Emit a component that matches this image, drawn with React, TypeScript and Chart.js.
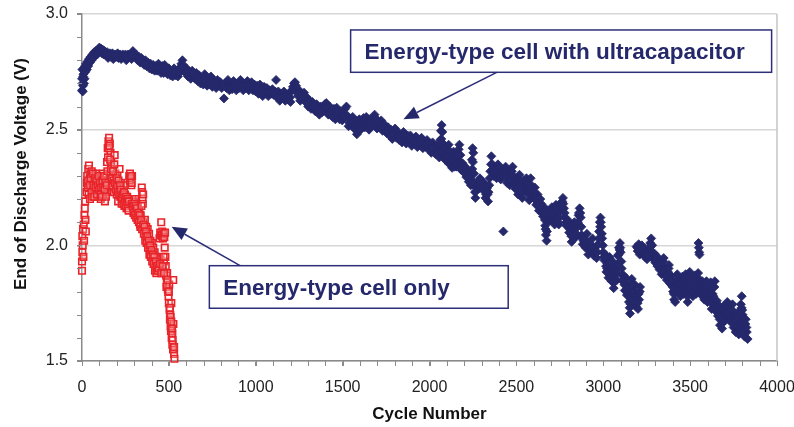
import React, { useEffect, useRef } from "react";
import { Chart, registerables } from "chart.js";

Chart.register(...registerables);

// Energy-type cell paired with an ultracapacitor: [cycle, end-of-discharge voltage]
const hybridEarly: [number, number][] = [
  [0, 2.67], [0, 2.72], [2, 2.76], [4, 2.665], [6, 2.69], [8, 2.74], [10, 2.765], [12, 2.70], [15, 2.72], [18, 2.775],
  [20, 2.75], [24, 2.785], [28, 2.76], [32, 2.795], [36, 2.775], [40, 2.805], [45, 2.79], [50, 2.815], [55, 2.80], [60, 2.825],
  [65, 2.81], [70, 2.835], [75, 2.82], [80, 2.84], [85, 2.83], [90, 2.845], [95, 2.835], [100, 2.855], [105, 2.84], [110, 2.85],
  [115, 2.83], [120, 2.845], [125, 2.825], [130, 2.84], [140, 2.82], [145, 2.835], [150, 2.81], [160, 2.83], [165, 2.815], [175, 2.83],
  [180, 2.805], [190, 2.825], [195, 2.815], [205, 2.83], [210, 2.81], [220, 2.825], [225, 2.805], [235, 2.825], [240, 2.815], [250, 2.825],
  [255, 2.80], [265, 2.825], [270, 2.815], [280, 2.825], [285, 2.805], [293, 2.84], [298, 2.83], [305, 2.815], [312, 2.825], [320, 2.80],
  [328, 2.815], [335, 2.79], [342, 2.81], [350, 2.795], [358, 2.78], [365, 2.80], [372, 2.775], [380, 2.79], [388, 2.765], [395, 2.785],
  [402, 2.76], [410, 2.78], [418, 2.755], [425, 2.775], [432, 2.755], [440, 2.785], [448, 2.76], [455, 2.745], [462, 2.775], [470, 2.745],
  [476, 2.78], [484, 2.755], [492, 2.74], [500, 2.765], [508, 2.735], [515, 2.755], [522, 2.73], [530, 2.765], [538, 2.735], [545, 2.755],
  [552, 2.73], [560, 2.765], [565, 2.75], [572, 2.785], [578, 2.80], [582, 2.78], [588, 2.76], [595, 2.745], [602, 2.765], [610, 2.73],
  [618, 2.75], [626, 2.72], [634, 2.755], [642, 2.735], [650, 2.72], [658, 2.745], [666, 2.71], [674, 2.735], [682, 2.70], [690, 2.725],
  [698, 2.695], [706, 2.74], [712, 2.71], [720, 2.69], [728, 2.72], [735, 2.695], [742, 2.73], [750, 2.685], [758, 2.715], [765, 2.70],
  [772, 2.68], [780, 2.715], [788, 2.69], [796, 2.705], [804, 2.68], [817, 2.635], [824, 2.70], [832, 2.68], [840, 2.715], [848, 2.67],
  [856, 2.695], [864, 2.675], [872, 2.71], [880, 2.685], [888, 2.67], [896, 2.70], [904, 2.68], [912, 2.715], [920, 2.69], [928, 2.67],
  [936, 2.70], [944, 2.68], [952, 2.71], [960, 2.67], [968, 2.69], [976, 2.705], [984, 2.67], [992, 2.695],
  [3, 2.70], [7, 2.73], [14, 2.75], [22, 2.77], [30, 2.78], [42, 2.79], [62, 2.81], [88, 2.825], [112, 2.835], [135, 2.83],
  [170, 2.82], [200, 2.815], [230, 2.815], [260, 2.81], [290, 2.82], [332, 2.80], [362, 2.785], [398, 2.77], [436, 2.765], [466, 2.76],
  [504, 2.75], [534, 2.745], [556, 2.745], [575, 2.77], [606, 2.745], [638, 2.745], [670, 2.72], [702, 2.715], [738, 2.705], [770, 2.695],
  [810, 2.695], [852, 2.685], [884, 2.695], [924, 2.685], [958, 2.69], [988, 2.68],
];

const hybridMiddle: [number, number][] = [
  [1000, 2.665], [1008, 2.69], [1016, 2.655], [1024, 2.695], [1032, 2.675], [1040, 2.645], [1048, 2.685], [1056, 2.66], [1064, 2.68], [1072, 2.645],
  [1080, 2.67], [1088, 2.655], [1096, 2.675], [1104, 2.65], [1112, 2.665], [1117, 2.715], [1122, 2.64], [1130, 2.665], [1138, 2.625], [1146, 2.655],
  [1154, 2.635], [1162, 2.665], [1170, 2.625], [1178, 2.645], [1186, 2.63], [1194, 2.66], [1200, 2.62], [1208, 2.67], [1214, 2.685], [1220, 2.70],
  [1226, 2.705], [1232, 2.69], [1238, 2.665], [1244, 2.645], [1250, 2.67], [1256, 2.625], [1262, 2.65], [1270, 2.635], [1278, 2.66], [1286, 2.62],
  [1294, 2.64], [1302, 2.60], [1310, 2.625], [1318, 2.59], [1326, 2.62], [1334, 2.595], [1342, 2.58], [1350, 2.61], [1358, 2.585], [1366, 2.565],
  [1374, 2.60], [1382, 2.575], [1390, 2.595], [1398, 2.61], [1406, 2.615], [1412, 2.59], [1418, 2.565], [1426, 2.60], [1434, 2.575], [1442, 2.555],
  [1450, 2.59], [1458, 2.545], [1466, 2.595], [1474, 2.565], [1482, 2.545], [1490, 2.58], [1498, 2.54], [1506, 2.57], [1514, 2.59], [1522, 2.60],
  [1528, 2.56], [1534, 2.515], [1542, 2.545], [1550, 2.525], [1558, 2.555], [1566, 2.505], [1574, 2.54], [1582, 2.48], [1588, 2.52], [1596, 2.545],
  [1604, 2.50], [1612, 2.53], [1620, 2.55], [1628, 2.51], [1636, 2.555], [1644, 2.535], [1652, 2.50], [1660, 2.545], [1668, 2.52], [1676, 2.555],
  [1684, 2.565], [1690, 2.55], [1698, 2.505], [1706, 2.53], [1714, 2.515], [1722, 2.54], [1730, 2.495], [1738, 2.525], [1746, 2.505], [1754, 2.485],
  [1762, 2.51], [1770, 2.475], [1778, 2.50], [1786, 2.46], [1794, 2.49], [1802, 2.505], [1810, 2.465], [1818, 2.49], [1826, 2.455], [1834, 2.48],
  [1842, 2.445], [1850, 2.49], [1858, 2.465], [1866, 2.44], [1874, 2.475], [1882, 2.45], [1890, 2.475], [1898, 2.43], [1906, 2.46], [1914, 2.44],
  [1922, 2.47], [1930, 2.425], [1938, 2.455], [1946, 2.435], [1954, 2.465], [1962, 2.42], [1970, 2.445], [1978, 2.425], [1986, 2.455], [1994, 2.415],
  [2002, 2.44], [2010, 2.40], [2018, 2.445], [2026, 2.42], [2034, 2.395], [2042, 2.43],
  [1004, 2.675], [1036, 2.66], [1068, 2.66], [1100, 2.66], [1134, 2.645], [1166, 2.645], [1198, 2.64], [1242, 2.655], [1274, 2.645], [1306, 2.61],
  [1338, 2.605], [1370, 2.58], [1402, 2.595], [1438, 2.585], [1470, 2.58], [1502, 2.555], [1538, 2.53], [1570, 2.52], [1600, 2.52], [1632, 2.53],
  [1664, 2.53], [1694, 2.525], [1726, 2.515], [1758, 2.495], [1790, 2.475], [1822, 2.47], [1854, 2.475], [1886, 2.46], [1918, 2.45], [1950, 2.45],
  [1982, 2.44], [2014, 2.42], [2046, 2.41],
];

const hybridLate: [number, number][] = [
  [2050, 2.40], [2056, 2.38], [2062, 2.455], [2066, 2.495], [2070, 2.52], [2074, 2.49], [2078, 2.44], [2082, 2.41], [2086, 2.38], [2092, 2.42],
  [2098, 2.365], [2104, 2.40], [2110, 2.435], [2116, 2.35], [2122, 2.38], [2130, 2.335], [2138, 2.405], [2146, 2.36], [2154, 2.34], [2162, 2.37],
  [2168, 2.415], [2172, 2.435], [2178, 2.39], [2184, 2.325], [2190, 2.355], [2198, 2.315], [2206, 2.34], [2212, 2.295], [2218, 2.325], [2226, 2.275],
  [2234, 2.30], [2240, 2.285], [2244, 2.37], [2248, 2.42], [2252, 2.40], [2256, 2.31], [2260, 2.255], [2264, 2.205], [2268, 2.235], [2274, 2.27],
  [2282, 2.245], [2290, 2.29], [2298, 2.26], [2306, 2.24], [2314, 2.27], [2322, 2.205], [2330, 2.245], [2337, 2.19], [2344, 2.26], [2350, 2.32],
  [2356, 2.385], [2362, 2.35], [2370, 2.30], [2378, 2.34], [2386, 2.29], [2394, 2.35], [2402, 2.31], [2410, 2.285], [2418, 2.33], [2425, 2.06],
  [2430, 2.30], [2438, 2.34], [2446, 2.27], [2454, 2.32], [2462, 2.26], [2470, 2.30], [2478, 2.34], [2486, 2.275], [2494, 2.245], [2502, 2.29],
  [2510, 2.22], [2518, 2.305], [2526, 2.26], [2534, 2.205], [2542, 2.28], [2550, 2.235], [2558, 2.29], [2566, 2.25], [2574, 2.195], [2582, 2.29],
  [2590, 2.24], [2598, 2.205], [2606, 2.25], [2614, 2.175], [2622, 2.22], [2630, 2.15], [2638, 2.20], [2646, 2.16], [2654, 2.125], [2660, 2.165],
  [2666, 2.085], [2670, 2.045], [2674, 2.02], [2680, 2.10], [2688, 2.15], [2696, 2.11], [2704, 2.165], [2712, 2.13], [2720, 2.09], [2728, 2.175],
  [2736, 2.12], [2744, 2.09], [2752, 2.15], [2760, 2.185], [2768, 2.205], [2774, 2.16], [2780, 2.12], [2788, 2.085], [2796, 2.11], [2804, 2.055],
  [2812, 2.09], [2818, 2.015], [2826, 2.06], [2834, 2.10], [2842, 2.035], [2850, 2.08], [2858, 2.13], [2864, 2.16], [2870, 2.12], [2876, 2.045],
  [2882, 2.005], [2890, 2.03], [2898, 1.99], [2906, 2.05], [2914, 1.96], [2922, 2.00], [2930, 1.975], [2938, 2.03], [2946, 1.955], [2954, 1.99],
  [2962, 1.945], [2970, 2.005], [2976, 2.06], [2980, 2.10], [2984, 2.12], [2988, 2.08], [2994, 2.03], [3000, 1.97], [3006, 1.935], [3012, 1.96],
  [3018, 1.885], [3024, 1.92], [3030, 1.86], [3036, 1.95], [3042, 1.90], [3048, 1.845], [3054, 1.93], [3060, 1.815], [3066, 1.87], [3072, 1.91],
  [3078, 1.85], [3084, 1.955], [3090, 1.99], [3096, 2.01], [3100, 1.97], [3106, 1.90], [3112, 1.845], [3118, 1.87], [3124, 1.805], [3130, 1.86],
  [3136, 1.785], [3142, 1.83], [3148, 1.755], [3154, 1.705], [3158, 1.745], [3164, 1.855], [3170, 1.81], [3176, 1.775], [3182, 1.83], [3188, 1.735],
  [3194, 1.79], [3200, 1.725], [3206, 1.765], [3212, 1.82],
];

// denser core of the scattered stretch from cycle 2050 onwards
const hybridLateCore: [number, number][] = [
  [2052, 2.43], [2060, 2.41], [2068, 2.46], [2076, 2.40], [2084, 2.42], [2090, 2.37], [2100, 2.39], [2108, 2.36], [2114, 2.41], [2124, 2.35],
  [2134, 2.37], [2142, 2.34], [2150, 2.38], [2158, 2.35], [2166, 2.39], [2176, 2.36], [2182, 2.35], [2194, 2.33], [2202, 2.33], [2210, 2.31],
  [2222, 2.30], [2230, 2.29], [2238, 2.26], [2246, 2.33], [2250, 2.36], [2254, 2.27], [2262, 2.23], [2270, 2.25], [2278, 2.26], [2286, 2.26],
  [2294, 2.28], [2302, 2.25], [2310, 2.25], [2318, 2.24], [2326, 2.22], [2334, 2.22], [2340, 2.23], [2346, 2.29], [2354, 2.35], [2360, 2.32],
  [2366, 2.33], [2374, 2.32], [2382, 2.31], [2390, 2.32], [2398, 2.33], [2406, 2.30], [2414, 2.31], [2422, 2.30], [2434, 2.32], [2442, 2.30],
  [2450, 2.29], [2458, 2.30], [2466, 2.28], [2474, 2.32], [2482, 2.30], [2490, 2.26], [2498, 2.27], [2506, 2.25], [2514, 2.27], [2522, 2.28],
  [2530, 2.23], [2538, 2.25], [2546, 2.26], [2554, 2.26], [2562, 2.27], [2570, 2.22], [2578, 2.24], [2586, 2.26], [2594, 2.22], [2602, 2.23],
  [2610, 2.20], [2618, 2.19], [2626, 2.18], [2634, 2.17], [2642, 2.18], [2650, 2.14], [2656, 2.14], [2664, 2.11], [2668, 2.07], [2676, 2.06],
  [2684, 2.12], [2692, 2.13], [2700, 2.14], [2708, 2.15], [2716, 2.11], [2724, 2.13], [2732, 2.15], [2740, 2.10], [2748, 2.12], [2756, 2.17],
  [2764, 2.19], [2770, 2.18], [2778, 2.14], [2786, 2.10], [2792, 2.10], [2800, 2.08], [2808, 2.07], [2816, 2.04], [2822, 2.04], [2830, 2.08],
  [2838, 2.07], [2846, 2.05], [2854, 2.10], [2860, 2.14], [2868, 2.14], [2874, 2.08], [2880, 2.03], [2886, 2.02], [2894, 2.01], [2902, 2.02],
  [2910, 2.00], [2918, 1.98], [2926, 1.99], [2934, 2.00], [2942, 1.99], [2950, 1.97], [2958, 1.97], [2966, 1.97], [2974, 2.03], [2982, 2.08],
  [2986, 2.10], [2992, 2.05], [2998, 2.00], [3004, 1.95], [3010, 1.95], [3016, 1.91], [3022, 1.90], [3028, 1.89], [3034, 1.91], [3040, 1.92],
  [3046, 1.87], [3052, 1.89], [3058, 1.84], [3064, 1.84], [3070, 1.89], [3076, 1.88], [3082, 1.92], [3088, 1.96], [3094, 1.98], [3098, 1.99],
  [3104, 1.93], [3110, 1.87], [3116, 1.85], [3122, 1.83], [3128, 1.84], [3134, 1.81], [3140, 1.80], [3146, 1.78], [3152, 1.73], [3160, 1.77],
  [3166, 1.83], [3172, 1.79], [3178, 1.80], [3186, 1.78], [3192, 1.76], [3198, 1.75], [3204, 1.79], [3210, 1.80],
];

const hybridFinal: [number, number][] = [
  [3192, 1.995], [3198, 1.975], [3204, 2.005], [3210, 1.96], [3216, 1.99], [3222, 2.00], [3228, 1.965], [3234, 1.985], [3240, 1.95], [3246, 1.975],
  [3252, 1.94], [3258, 1.965], [3264, 1.98], [3270, 2.01], [3276, 2.03], [3282, 2.00], [3288, 1.94], [3294, 1.965], [3300, 1.925], [3306, 1.955],
  [3312, 1.91], [3318, 1.94], [3324, 1.895], [3330, 1.925], [3336, 1.875], [3342, 1.91], [3348, 1.945], [3354, 1.87], [3360, 1.90], [3366, 1.85],
  [3372, 1.885], [3378, 1.915], [3384, 1.835], [3390, 1.87], [3396, 1.825], [3402, 1.80], [3408, 1.765], [3414, 1.755], [3420, 1.84], [3426, 1.875],
  [3432, 1.81], [3438, 1.855], [3444, 1.78], [3450, 1.83], [3456, 1.865], [3462, 1.79], [3468, 1.845], [3474, 1.875], [3480, 1.81], [3486, 1.755],
  [3492, 1.85], [3498, 1.885], [3504, 1.80], [3510, 1.86], [3516, 1.78], [3522, 1.84], [3528, 1.87], [3534, 1.79], [3540, 1.845], [3546, 1.88],
  [3548, 2.01], [3550, 1.99], [3552, 1.97], [3554, 1.96], [3558, 1.82], [3564, 1.785], [3570, 1.845], [3576, 1.80], [3582, 1.765], [3588, 1.83],
  [3594, 1.845], [3600, 1.755], [3606, 1.80], [3612, 1.775], [3618, 1.84], [3624, 1.725], [3630, 1.79], [3636, 1.755], [3642, 1.845], [3648, 1.715],
  [3654, 1.76], [3660, 1.695], [3666, 1.74], [3672, 1.655], [3678, 1.72], [3684, 1.64], [3690, 1.70], [3696, 1.74], [3702, 1.675], [3708, 1.72],
  [3714, 1.755], [3720, 1.685], [3726, 1.73], [3732, 1.67], [3738, 1.70], [3744, 1.745], [3750, 1.645], [3756, 1.69], [3762, 1.625], [3768, 1.67],
  [3774, 1.71], [3780, 1.615], [3786, 1.66], [3792, 1.745], [3797, 1.78], [3802, 1.70], [3808, 1.655], [3814, 1.605], [3820, 1.68], [3826, 1.625],
  [3831, 1.595],
];

// denser core of the last stretch
const hybridFinalCore: [number, number][] = [
  [3196, 1.99], [3202, 1.985], [3208, 1.975], [3214, 1.975], [3220, 1.98], [3226, 1.98], [3232, 1.97], [3238, 1.965], [3244, 1.96], [3250, 1.955],
  [3256, 1.95], [3262, 1.955], [3268, 1.99], [3274, 2.00], [3280, 1.97], [3286, 1.96], [3292, 1.95], [3298, 1.94], [3304, 1.94], [3310, 1.93],
  [3316, 1.92], [3322, 1.915], [3328, 1.91], [3334, 1.895], [3340, 1.89], [3346, 1.93], [3352, 1.89], [3358, 1.885], [3364, 1.87], [3370, 1.865],
  [3376, 1.90], [3382, 1.855], [3388, 1.85], [3394, 1.84], [3400, 1.82], [3406, 1.79], [3412, 1.80], [3418, 1.82], [3424, 1.855], [3430, 1.83],
  [3436, 1.83], [3442, 1.80], [3448, 1.81], [3454, 1.85], [3460, 1.81], [3466, 1.82], [3472, 1.855], [3478, 1.83], [3484, 1.78], [3490, 1.82],
  [3496, 1.865], [3502, 1.82], [3508, 1.84], [3514, 1.80], [3520, 1.82], [3526, 1.85], [3532, 1.81], [3538, 1.82], [3544, 1.86], [3556, 1.80],
  [3562, 1.81], [3568, 1.82], [3574, 1.78], [3580, 1.79], [3586, 1.81], [3592, 1.82], [3598, 1.78], [3604, 1.78], [3610, 1.79], [3616, 1.81],
  [3622, 1.75], [3628, 1.77], [3634, 1.78], [3640, 1.82], [3646, 1.74], [3652, 1.73], [3658, 1.72], [3664, 1.72], [3670, 1.68], [3676, 1.70],
  [3682, 1.66], [3688, 1.68], [3694, 1.72], [3700, 1.70], [3706, 1.70], [3712, 1.73], [3718, 1.71], [3724, 1.71], [3730, 1.69], [3736, 1.68],
  [3742, 1.72], [3748, 1.67], [3754, 1.67], [3760, 1.645], [3766, 1.65], [3772, 1.69], [3778, 1.64], [3784, 1.64], [3790, 1.70], [3796, 1.73],
  [3800, 1.72], [3806, 1.68], [3812, 1.63], [3818, 1.66], [3824, 1.645],
];

// Energy-type cell on its own: [cycle, end-of-discharge voltage]
const cellOnly: [number, number][] = [
  [0, 1.89], [0, 1.93], [2, 1.97], [4, 2.00], [2, 2.04], [6, 2.07], [8, 1.95], [10, 2.09], [12, 2.02], [14, 2.13],
  [16, 2.16], [18, 2.19], [20, 2.11], [22, 2.06], [26, 2.23], [28, 2.27], [30, 2.30], [32, 2.25], [36, 2.33], [40, 2.345],
  [44, 2.29], [48, 2.31], [52, 2.26], [56, 2.32], [60, 2.28], [64, 2.24], [68, 2.30], [72, 2.27], [76, 2.22], [80, 2.31],
  [84, 2.25], [88, 2.29], [92, 2.21], [96, 2.27], [100, 2.30], [104, 2.24], [108, 2.20], [112, 2.28], [116, 2.25], [120, 2.31],
  [124, 2.22], [128, 2.26], [132, 2.19], [136, 2.23], [140, 2.30], [144, 2.36], [148, 2.42], [152, 2.45], [156, 2.465], [160, 2.44],
  [164, 2.40], [168, 2.36], [172, 2.33], [176, 2.29], [180, 2.25], [184, 2.23], [188, 2.39], [192, 2.31], [196, 2.27], [200, 2.22],
  [204, 2.30], [208, 2.19], [212, 2.25], [216, 2.33], [220, 2.21], [224, 2.27], [228, 2.18], [232, 2.24], [236, 2.20], [240, 2.26],
  [244, 2.17], [248, 2.22], [252, 2.19], [256, 2.16], [260, 2.21], [266, 2.18], [272, 2.30], [276, 2.31], [280, 2.28], [284, 2.26],
  [288, 2.30], [290, 2.20], [294, 2.16], [298, 2.19], [302, 2.15], [306, 2.20], [310, 2.14], [314, 2.18], [318, 2.13], [322, 2.17],
  [326, 2.11], [330, 2.15], [334, 2.09], [338, 2.13], [344, 2.25], [346, 2.23], [348, 2.20], [350, 2.18], [354, 2.10], [358, 2.06],
  [362, 2.11], [366, 2.04], [370, 2.08], [374, 2.03], [378, 2.07], [382, 2.00], [386, 2.05], [390, 1.98], [394, 2.02], [398, 1.97],
  [402, 2.01], [406, 1.95], [410, 1.99], [414, 1.93], [418, 1.97], [422, 1.91], [426, 1.95], [430, 1.90], [434, 1.93], [440, 1.92],
  [446, 1.89], [452, 1.94], [460, 1.90], [466, 1.89], [472, 1.93], [446, 2.03], [450, 2.055], [454, 2.045], [456, 2.10], [458, 2.04],
  [462, 2.06], [466, 2.03], [470, 2.05], [474, 2.035], [478, 2.055], [476, 1.99], [480, 1.95], [482, 1.91], [484, 1.87], [488, 1.84],
  [490, 1.88], [494, 1.81], [498, 1.78], [500, 1.75], [502, 1.83], [504, 1.72], [506, 1.68], [508, 1.70], [510, 1.65], [512, 1.63],
  [514, 1.75], [516, 1.60], [520, 1.62], [522, 1.59], [525, 1.85], [526, 1.66], [528, 1.56], [530, 1.53], [532, 1.51],
];

// denser core of the cell-only trace
const cellOnlyCore: [number, number][] = [
  [34, 2.28], [38, 2.22], [42, 2.26], [46, 2.20], [50, 2.29], [54, 2.23], [58, 2.21], [62, 2.31], [66, 2.26], [70, 2.21],
  [74, 2.29], [78, 2.25], [82, 2.28], [86, 2.22], [90, 2.26], [94, 2.30], [98, 2.24], [102, 2.27], [106, 2.22], [110, 2.25],
  [114, 2.21], [118, 2.28], [122, 2.25], [126, 2.30], [130, 2.24], [134, 2.27], [138, 2.21], [142, 2.26], [146, 2.32], [150, 2.38],
  [154, 2.42], [158, 2.43], [162, 2.37], [166, 2.33], [170, 2.29], [174, 2.26], [178, 2.32], [182, 2.28], [186, 2.35], [190, 2.27],
  [194, 2.24], [198, 2.29], [202, 2.26], [206, 2.23], [210, 2.28], [214, 2.22], [218, 2.26], [222, 2.24], [226, 2.21], [230, 2.20],
  [234, 2.22], [238, 2.18], [242, 2.23], [246, 2.20], [250, 2.17], [254, 2.21], [258, 2.19], [262, 2.16], [264, 2.20], [268, 2.15],
  [270, 2.19], [274, 2.28], [278, 2.29], [282, 2.30], [286, 2.27], [286, 2.18], [292, 2.17], [296, 2.14], [300, 2.18], [304, 2.13],
  [308, 2.17], [312, 2.12], [316, 2.16], [320, 2.11], [324, 2.14], [328, 2.10], [332, 2.13], [336, 2.08], [340, 2.11], [342, 2.17],
  [352, 2.22], [346, 2.07], [352, 2.09], [356, 2.05], [360, 2.08], [364, 2.02], [368, 2.06], [372, 2.01], [376, 2.04], [380, 1.99],
  [384, 2.02], [388, 1.96], [392, 2.00], [396, 1.95], [400, 1.98], [404, 1.93], [408, 1.96], [412, 1.92], [416, 1.95], [420, 1.89],
  [424, 1.93], [428, 1.88], [432, 1.91], [436, 1.89], [442, 1.90], [448, 1.92], [456, 1.88], [464, 1.91], [470, 1.95], [472, 1.88],
  [486, 1.82], [492, 1.85], [496, 1.80], [500, 1.80], [506, 1.73], [510, 1.69], [514, 1.67], [518, 1.64], [520, 1.57], [524, 1.55],
  [530, 1.56],
];

// Axis ranges and tick steps
const cycleMin = 0;
const cycleMax = 4000;
const cycleStep = 500;
const cycleMinorStep = 100;
const voltMin = 1.5;
const voltMax = 3.0;
const voltStep = 0.5;
const voltMinorStep = 0.1;

// Callout labels, anchored in data units (cycle, volts)
const callouts = [
  {
    text: "Energy-type cell with ultracapacitor",
    box: [1546, 2.931, 3969, 2.748],
    from: [2387, 2.748],
    to: [1850, 2.545],
  },
  {
    text: "Energy-type cell only",
    box: [733, 1.912, 2453, 1.728],
    from: [910, 1.912],
    to: [516, 2.08],
  },
];

const NAVY = "#25286b";
const RED = "#e8242a";
const FONT = '"Liberation Sans", Arial, Helvetica, sans-serif';

const toXY = (pts: [number, number][]) => pts.map(([x, y]) => ({ x, y }));

const decorPlugin = {
  id: "decor",
  afterDraw(chart: any) {
    const { ctx, chartArea: a } = chart;
    const xs = chart.scales.x;
    const ys = chart.scales.y;
    ctx.save();

    // plot frame on the right
    ctx.strokeStyle = "#c4c4c4";
    ctx.lineWidth = 1.5;
    ctx.beginPath();
    ctx.moveTo(a.right, a.top);
    ctx.lineTo(a.right, a.bottom);
    ctx.stroke();

    // minor tick marks
    ctx.strokeStyle = "#8a8a8a";
    ctx.lineWidth = 1;
    ctx.beginPath();
    for (let v = voltMin; v <= voltMax + 1e-9; v += voltMinorStep) {
      const py = Math.round(ys.getPixelForValue(v)) + 0.5;
      ctx.moveTo(a.left - 5, py);
      ctx.lineTo(a.left, py);
    }
    for (let c = cycleMin; c <= cycleMax; c += cycleMinorStep) {
      const px = Math.round(xs.getPixelForValue(c)) + 0.5;
      ctx.moveTo(px, a.bottom);
      ctx.lineTo(px, a.bottom + 5);
    }
    ctx.stroke();

    // axis titles
    ctx.fillStyle = "#111";
    ctx.font = `bold 17px ${FONT}`;
    ctx.textAlign = "center";
    ctx.textBaseline = "middle";
    ctx.fillText("Cycle Number", (a.left + a.right) / 2, 414);
    ctx.save();
    ctx.translate(21, 174);
    ctx.rotate(-Math.PI / 2);
    ctx.fillText("End of Discharge Voltage (V)", 0, 0);
    ctx.restore();

    // callouts with arrows
    for (const c of callouts) {
      const x0 = xs.getPixelForValue(c.box[0]);
      const y0 = ys.getPixelForValue(c.box[1]);
      const x1 = xs.getPixelForValue(c.box[2]);
      const y1 = ys.getPixelForValue(c.box[3]);
      ctx.fillStyle = "#fff";
      ctx.fillRect(x0, y0, x1 - x0, y1 - y0);
      ctx.strokeStyle = "#2c2f78";
      ctx.lineWidth = 1.5;
      ctx.strokeRect(x0, y0, x1 - x0, y1 - y0);
      ctx.fillStyle = NAVY;
      ctx.font = `bold 22.5px ${FONT}`;
      ctx.textAlign = "left";
      ctx.textBaseline = "alphabetic";
      ctx.fillText(c.text, x0 + 14, y0 + 29);

      const fx = xs.getPixelForValue(c.from[0]);
      const fy = ys.getPixelForValue(c.from[1]);
      const tx = xs.getPixelForValue(c.to[0]);
      const ty = ys.getPixelForValue(c.to[1]);
      const ang = Math.atan2(ty - fy, tx - fx);
      const headLen = 15;
      const headHalf = 6.5;
      const bx = tx - headLen * Math.cos(ang);
      const by = ty - headLen * Math.sin(ang);
      ctx.strokeStyle = "#2c2f78";
      ctx.lineWidth = 1.5;
      ctx.beginPath();
      ctx.moveTo(fx, fy);
      ctx.lineTo(bx, by);
      ctx.stroke();
      ctx.fillStyle = NAVY;
      ctx.beginPath();
      ctx.moveTo(tx, ty);
      ctx.lineTo(bx + headHalf * Math.sin(ang), by - headHalf * Math.cos(ang));
      ctx.lineTo(bx - headHalf * Math.sin(ang), by + headHalf * Math.cos(ang));
      ctx.closePath();
      ctx.fill();
    }
    ctx.restore();
  },
};

export default function App() {
  const canvasRef = useRef<HTMLCanvasElement | null>(null);

  useEffect(() => {
    if (!canvasRef.current) return;
    const hybrid = [...hybridEarly, ...hybridMiddle, ...hybridLate, ...hybridLateCore, ...hybridFinal, ...hybridFinalCore];
    const single = [...cellOnly, ...cellOnlyCore];
    const chart = new Chart(canvasRef.current, {
      type: "scatter",
      data: {
        datasets: [
          {
            label: "Energy-type cell with ultracapacitor",
            data: toXY(hybrid),
            pointStyle: "rectRot",
            pointRadius: 4.5,
            backgroundColor: NAVY,
            borderColor: NAVY,
            borderWidth: 0.8,
            clip: false,
          },
          {
            label: "Energy-type cell only",
            data: toXY(single),
            pointStyle: "rect",
            pointRadius: 4.6,
            backgroundColor: "rgba(255,225,225,0.25)",
            borderColor: RED,
            borderWidth: 1.6,
            clip: false,
          },
        ],
      },
      options: {
        responsive: false,
        animation: false,
        devicePixelRatio: 1,
        layout: { padding: { top: 14, right: 17, left: 0, bottom: 0 } },
        plugins: { legend: { display: false }, tooltip: { enabled: false } },
        scales: {
          x: {
            type: "linear",
            min: cycleMin,
            max: cycleMax,
            ticks: {
              stepSize: cycleStep,
              padding: 12,
              color: "#222",
              font: { family: FONT, size: 16 },
              maxRotation: 0,
              callback: (v: any) => String(v),
            },
            grid: { drawOnChartArea: false, drawTicks: true, tickLength: 5, tickColor: "#8a8a8a" },
            border: { display: true, color: "#8a8a8a", width: 1.5 },
            afterFit: (scale: any) => {
              scale.height = 66;
              scale.paddingLeft = 0;
              scale.paddingRight = 0;
            },
          },
          y: {
            type: "linear",
            min: voltMin,
            max: voltMax,
            ticks: {
              stepSize: voltStep,
              padding: 9,
              color: "#222",
              font: { family: FONT, size: 16 },
              callback: (v: any) => Number(v).toFixed(1),
            },
            grid: { color: "#d6d6d6", lineWidth: 1.5, tickLength: 5, tickColor: "#8a8a8a" },
            border: { display: true, color: "#8a8a8a", width: 1.5 },
            afterFit: (scale: any) => {
              scale.width = 82;
              scale.paddingTop = 0;
              scale.paddingBottom = 0;
            },
          },
        },
      },
      plugins: [decorPlugin],
    });
    return () => chart.destroy();
  }, []);

  return (
    <div style={{ position: "absolute", left: 0, top: 0, width: 794, height: 427, background: "#fff" }}>
      <canvas ref={canvasRef} width={794} height={427} style={{ display: "block" }} />
    </div>
  );
}
